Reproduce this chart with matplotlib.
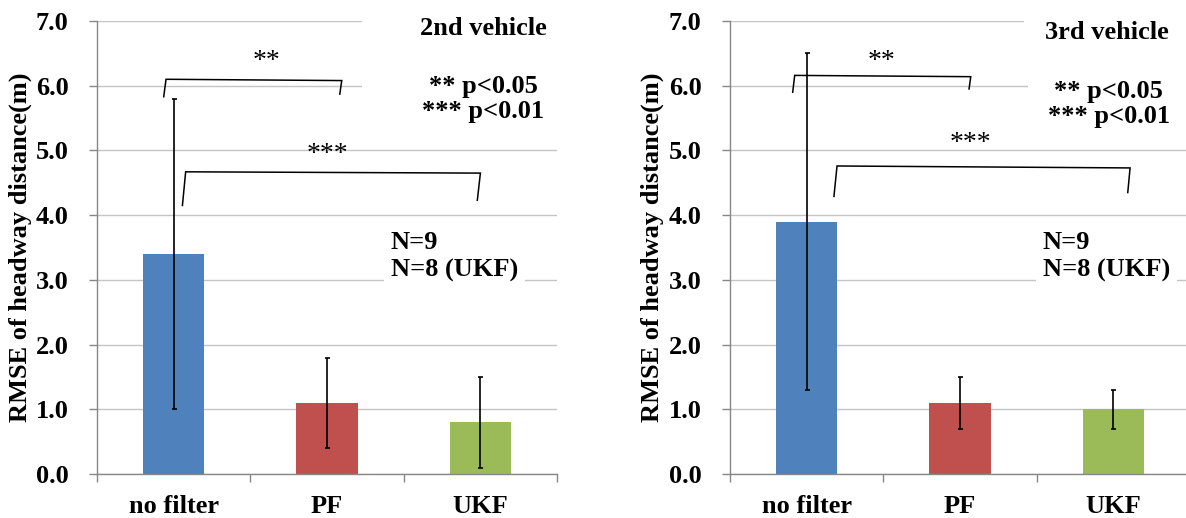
import numpy as np
import matplotlib
matplotlib.use("Agg")
import matplotlib.pyplot as plt
from matplotlib.ticker import FormatStrFormatter

# ---------------------------------------------------------
# data
# ---------------------------------------------------------

categories = ["no filter", "PF", "UKF"]
bar_colors = ["#4F81BD", "#C0504D", "#9BBB59"]

rmse_2nd = [3.4, 1.1, 0.8]
sd_2nd = [2.4, 0.7, 0.7]

rmse_3rd = [3.9, 1.1, 1.0]
sd_3rd = [2.6, 0.4, 0.3]

y_ticks = [0, 1, 2, 3, 4, 5, 6, 7]

# ---------------------------------------------------------
# annotation layout per panel
# ---------------------------------------------------------

panels = [
    dict(
        rect=[0.0818, 0.0849, 0.3879, 0.8745],
        values=rmse_2nd, errs=sd_2nd,
        title="2nd vehicle", title_xy=(2.02, 6.785), title_pad=2.2,
        p_xy=(2.02, 5.50), p_pad=0.75,
        n_xy=(1.415, 3.045),
        brackets=[
            ("**", [-0.065, -0.05, 1.096, 1.083], [5.83, 6.10, 6.08, 5.87], (0.606, 6.28)),
            ("***", [0.057, 0.078, 2.0, 1.98], [4.15, 4.67, 4.65, 4.23], (1.0, 4.83)),
        ],
    ),
    dict(
        rect=[0.6155, 0.0849, 0.3879, 0.8745],
        values=rmse_3rd, errs=sd_3rd,
        title="3rd vehicle", title_xy=(1.96, 6.73), title_pad=0.8,
        p_xy=(1.97, 5.42), p_pad=0.75,
        n_xy=(1.54, 3.045),
        brackets=[
            ("**", [-0.091, -0.078, 1.07, 1.059], [5.90, 6.16, 6.14, 5.95], (0.487, 6.28)),
            ("***", [0.178, 0.198, 2.109, 2.094], [4.29, 4.76, 4.73, 4.35], (1.068, 5.01)),
        ],
    ),
]

plt.rcParams["font.family"] = ["Liberation Serif", "DejaVu Serif"]
plt.rcParams["font.weight"] = "bold"

SPINE = "#878787"
GRID = "#C4C4C4"
FS = 19

fig = plt.figure(figsize=(11.86, 5.18), dpi=100)

for p in panels:
    ax = fig.add_axes(p["rect"])
    x = np.arange(len(categories))

    ax.bar(x, p["values"], width=0.4, color=bar_colors, zorder=2)
    ax.errorbar(x, p["values"], yerr=p["errs"], fmt="none", ecolor="black",
                elinewidth=1.2, capsize=1.8, capthick=1.2, zorder=3)

    ax.set_xlim(-0.5, 2.5)
    ax.set_ylim(0, 7)
    ax.set_yticks(y_ticks)
    ax.yaxis.set_major_formatter(FormatStrFormatter("%.1f"))
    ax.set_xticks(x)
    ax.set_xticklabels(categories)
    ax.set_xticks(np.arange(-0.5, 3.0, 1.0), minor=True)

    ax.grid(axis="y", color=GRID, linewidth=1.0, zorder=0)
    ax.set_axisbelow(True)
    for s in ["top", "right"]:
        ax.spines[s].set_visible(False)
    for s in ["left", "bottom"]:
        ax.spines[s].set_color(SPINE)
        ax.spines[s].set_linewidth(1.0)

    ax.tick_params(axis="y", which="major", length=5.5, width=1.0, color=SPINE,
                   pad=15, labelsize=FS)
    ax.tick_params(axis="x", which="major", length=0, pad=15, labelsize=FS)
    ax.tick_params(axis="x", which="minor", length=5.5, width=1.0, color=SPINE)
    for lab in ax.get_xticklabels() + ax.get_yticklabels():
        lab.set_fontweight("bold")

    ax.set_ylabel("RMSE of headway distance(m)", fontsize=FS, fontweight="bold",
                  labelpad=3)

    # significance brackets
    for stars, bx, by, (tx, ty) in p["brackets"]:
        ax.plot(bx, by, color="black", linewidth=1.1, zorder=4,
                solid_joinstyle="miter")
        ax.text(tx, ty, stars, ha="center", va="baseline", fontsize=20,
                fontweight="normal", zorder=5)

    # text boxes (white background breaks the grid lines like the original)
    ax.text(*p["title_xy"], p["title"], ha="center", va="baseline", fontsize=FS,
            fontweight="bold", zorder=5,
            bbox=dict(boxstyle="square,pad=%.2f" % p["title_pad"],
                      facecolor="white", edgecolor="none"))
    ax.text(*p["p_xy"], "** p<0.05\n*** p<0.01", ha="center", va="baseline",
            multialignment="center", fontsize=FS, fontweight="bold",
            linespacing=1.1, zorder=6,
            bbox=dict(boxstyle="square,pad=%.2f" % p["p_pad"],
                      facecolor="white", edgecolor="none"))
    ax.text(*p["n_xy"], "N=9\nN=8 (UKF)", ha="left", va="baseline",
            fontsize=FS, fontweight="bold", linespacing=1.25, zorder=5,
            bbox=dict(boxstyle="square,pad=0.25",
                      facecolor="white", edgecolor="none"))

fig.savefig("out.png", dpi=100)
